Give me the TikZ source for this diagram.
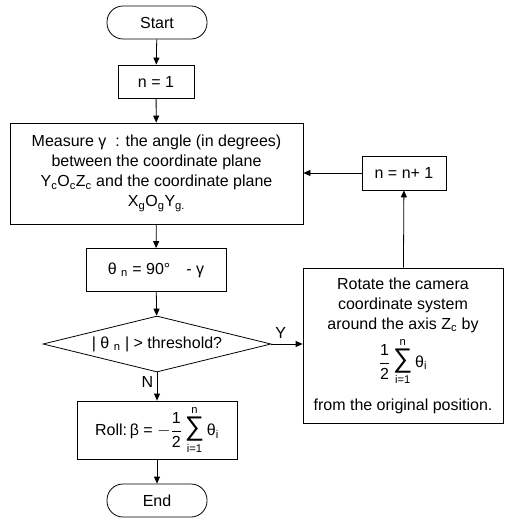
\documentclass[tikz,border=0pt]{standalone}
\usepackage{amsmath}
\usepackage{fontspec}
\setmainfont{Liberation Sans}
\usetikzlibrary{shapes.geometric,arrows.meta}

\tikzset{
	base/.style={draw, line width=0.8pt, align=center, inner sep=2pt,
		font=\fontsize{16}{20}\selectfont},
	term/.style={base, rounded corners=16pt, minimum width=100pt, minimum height=33pt},
	proc/.style={base, rectangle},
	test/.style={base, diamond, aspect=4, inner sep=0pt, minimum width=228pt, minimum height=56pt},
	flow/.style={line width=0.8pt, -{Triangle[length=7pt,width=6pt]}},
	tag/.style={font=\fontsize{16}{20}\selectfont}
}

\newcommand{\halfsum}{\dfrac{\text{1}}{\text{2}}\mathop{\text{\fontsize{27}{28}\selectfont ∑}}\limits_{\text{i=1}}^{\text{n}}\text{θ}_\text{i}}

\begin{document}
\begin{tikzpicture}[x=1pt, y=-1pt]
		\useasboundingbox (0,0) rectangle (505,518);

		\node[term] (start) at (157, 22.5) {Start};
		\node[proc, minimum width=76pt, minimum height=33pt] (init) at (156, 81.5) {n = 1};
		\node[proc, minimum width=293pt, minimum height=101pt] (measure) at (156.5, 173.5)
			{Measure γ\ \ : the angle (in degrees)\\between the coordinate plane\\
			Y$_\text{c}$O$_\text{c}$Z$_\text{c}$ and the coordinate plane\\
			X$_\text{g}$O$_\text{g}$Y$_\text{g.}$};
		\node[proc, minimum width=140pt, minimum height=43pt] (theta) at (156, 270)
			{θ\ $_\text{n}$ = 90°\quad- γ};
		\node[test] (check) at (157, 344) {| θ\ $_\text{n}$ | > threshold?};
		\node[proc, minimum width=160pt, minimum height=58pt] (roll) at (157, 430)
			{Roll:\,β = $-\halfsum$};
		\node[term] (stop) at (157, 500.5) {End};

		\node[proc, minimum width=84pt, minimum height=34pt] (incr) at (404, 173) {n = n+ 1};
		\node[proc, minimum width=200pt, minimum height=155pt] (rotate) at (403, 345.5)
			{Rotate the camera\\coordinate system\\around the axis Z$_\text{c}$ by\\[4pt]
			$\halfsum$\\[12pt]
			from the original position.};

		\draw[flow] (start) -- (init);
		\draw[flow] (init) -- (measure);
		\draw[flow] (measure) -- (theta);
		\draw[flow] (theta) -- (check);
		\draw[flow] (check) -- node[tag, left, pos=0.35] {N} (roll);
		\draw[flow] (roll) -- (stop);
		\draw[flow] (check.east) -- node[tag, above=2pt, pos=0.3] {Y} (check.east -| rotate.west);
		\draw[flow] (rotate) -- (incr);
		\draw[flow] (incr) -- (incr -| measure.east);
	\end{tikzpicture}
\end{document}
